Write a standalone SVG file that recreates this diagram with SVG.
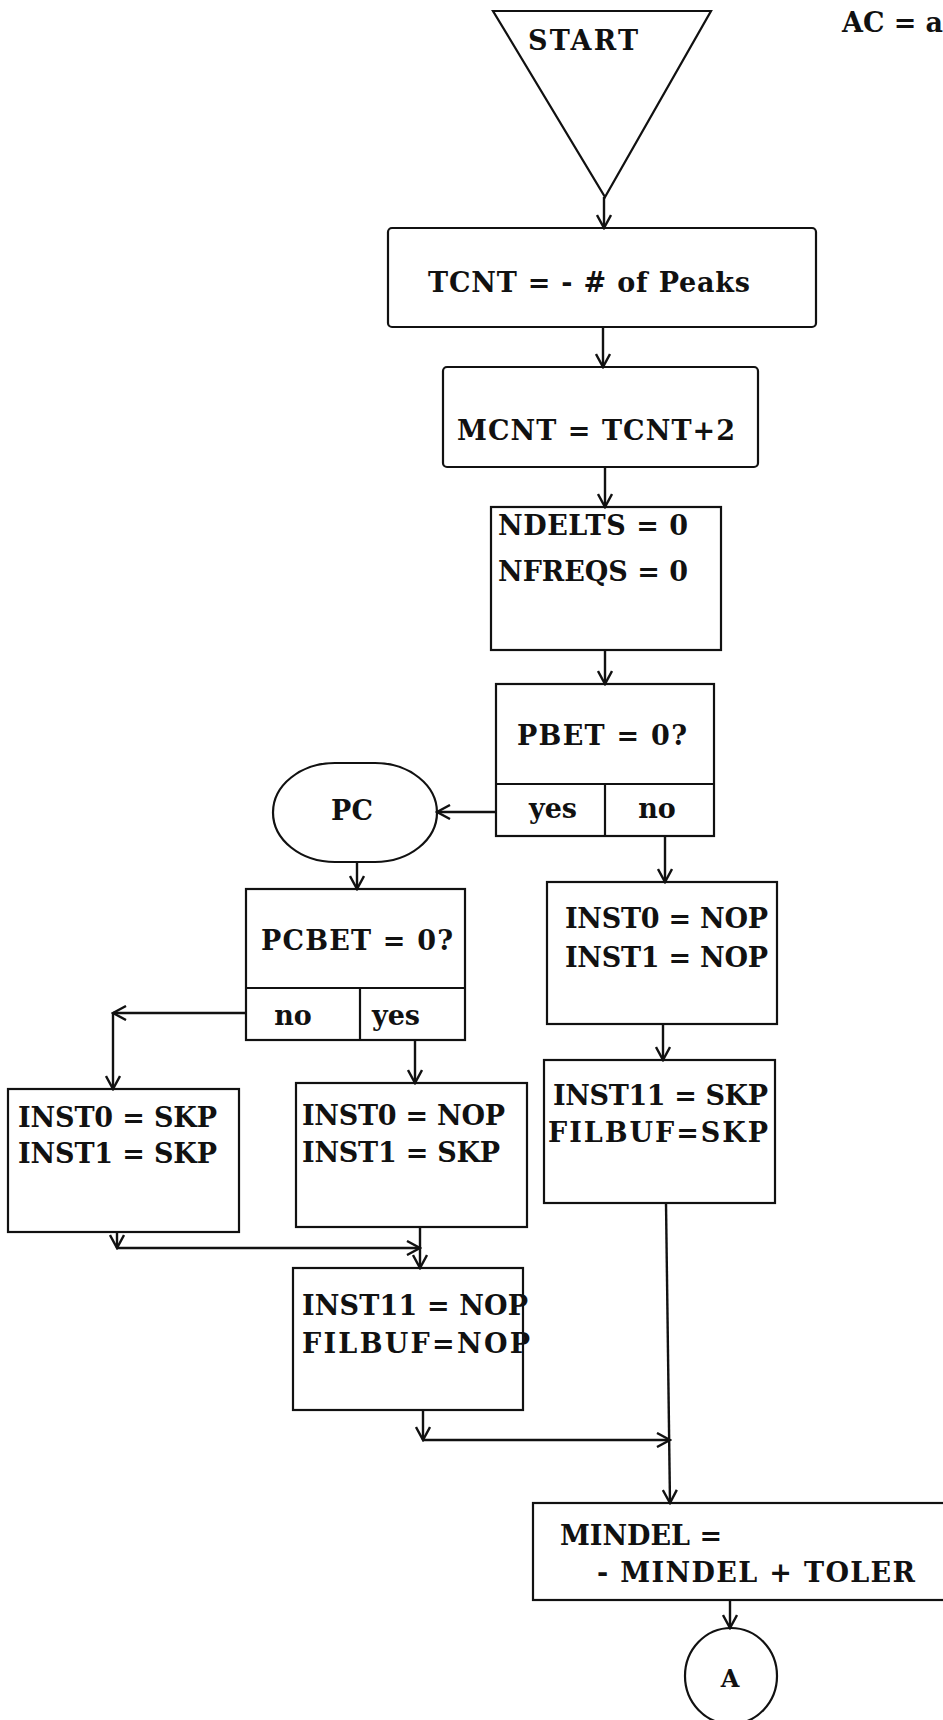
<svg xmlns="http://www.w3.org/2000/svg" width="943" height="1720" viewBox="0 0 943 1720">
<style>
.b{fill:none;stroke:#111;stroke-width:2.2}
.c{fill:none;stroke:#111;stroke-width:2.4}
text{font-family:"DejaVu Serif","Liberation Serif",serif;font-weight:bold;font-size:27px;fill:#111}
.m{text-anchor:middle}
</style>
<defs>
<marker id="ah" markerUnits="userSpaceOnUse" markerWidth="16" markerHeight="16" viewBox="0 0 16 16" refX="14" refY="8" orient="auto">
<path d="M1,1 L14,8 L1,15" fill="none" stroke="#111" stroke-width="2.4"/>
</marker>
</defs>
<rect width="943" height="1720" fill="#fff"/>
<g id="label-ac"><text x="842" y="32" textLength="101">AC = a</text></g>
<g id="start"><path class="b" d="M493,11 L711,11 L605,197 Z"/><text x="528" y="50" textLength="110">START</text></g>
<g id="tcnt"><rect class="b" x="388" y="228" width="428" height="99" rx="4"/><text x="428" y="292" textLength="322">TCNT = - # of Peaks</text></g>
<g id="mcnt"><rect class="b" x="443" y="367" width="315" height="100" rx="4"/><text x="457" y="440" textLength="278">MCNT = TCNT+2</text></g>
<g id="ndelts"><rect class="b" x="491" y="507" width="230" height="143"/><text x="498" y="535" textLength="190">NDELTS = 0</text><text x="498" y="581" textLength="190">NFREQS = 0</text></g>
<g id="pbet"><rect class="b" x="496" y="684" width="218" height="152"/><path class="b" d="M496,784 L714,784 M605,784 L605,836"/><text x="517" y="745" textLength="170">PBET = 0?</text><text class="m" x="553" y="818">yes</text><text class="m" x="657" y="818">no</text></g>
<g id="pc"><rect class="b" x="273" y="763" width="164" height="99" rx="62" ry="49.5"/><text class="m" x="352" y="820">PC</text></g>
<g id="pcbet"><rect class="b" x="246" y="889" width="219" height="151"/><path class="b" d="M246,988 L465,988 M360,988 L360,1040"/><text x="261" y="950" textLength="192">PCBET = 0?</text><text class="m" x="293" y="1025">no</text><text class="m" x="396" y="1025">yes</text></g>
<g id="inst-nop-nop"><rect class="b" x="547" y="882" width="230" height="142"/><text x="565" y="928" textLength="203">INST0 = NOP</text><text x="565" y="967" textLength="203">INST1 = NOP</text></g>
<g id="inst11-skp"><rect class="b" x="544" y="1060" width="231" height="143"/><text x="553" y="1105" textLength="215">INST11 = SKP</text><text x="548" y="1142" textLength="220">FILBUF=SKP</text></g>
<g id="inst-skp-skp"><rect class="b" x="8" y="1089" width="231" height="143"/><text x="18" y="1127" textLength="199">INST0 = SKP</text><text x="18" y="1163" textLength="199">INST1 = SKP</text></g>
<g id="inst-nop-skp"><rect class="b" x="296" y="1083" width="231" height="144"/><text x="302" y="1125" textLength="203">INST0 = NOP</text><text x="302" y="1162" textLength="198">INST1 = SKP</text></g>
<g id="inst11-nop"><rect class="b" x="293" y="1268" width="230" height="142"/><text x="302" y="1315" textLength="226">INST11 = NOP</text><text x="302" y="1353" textLength="228">FILBUF=NOP</text></g>
<g id="mindel"><rect class="b" x="533" y="1503" width="430" height="97"/><text x="560" y="1545" textLength="162">MINDEL =</text><text x="597" y="1582" textLength="318">- MINDEL + TOLER</text></g>
<g id="connector-a"><ellipse class="b" cx="731" cy="1676" rx="46" ry="48"/><text class="m" x="730" y="1687" style="font-size:24px">A</text></g>
<g id="connectors">
<line class="c" x1="604" y1="197" x2="604" y2="228" marker-end="url(#ah)"/>
<line class="c" x1="603" y1="327" x2="603" y2="367" marker-end="url(#ah)"/>
<line class="c" x1="605" y1="467" x2="605" y2="507" marker-end="url(#ah)"/>
<line class="c" x1="605" y1="650" x2="605" y2="684" marker-end="url(#ah)"/>
<line class="c" x1="496" y1="812" x2="437" y2="812" marker-end="url(#ah)"/>
<line class="c" x1="665" y1="836" x2="665" y2="882" marker-end="url(#ah)"/>
<line class="c" x1="663" y1="1024" x2="663" y2="1060" marker-end="url(#ah)"/>
<line class="c" x1="357" y1="862" x2="357" y2="889" marker-end="url(#ah)"/>
<line class="c" x1="246" y1="1013" x2="113" y2="1013" marker-end="url(#ah)"/>
<line class="c" x1="113" y1="1013" x2="113" y2="1089" marker-end="url(#ah)"/>
<line class="c" x1="415" y1="1040" x2="415" y2="1083" marker-end="url(#ah)"/>
<line class="c" x1="117" y1="1232" x2="117" y2="1248" marker-end="url(#ah)"/>
<line class="c" x1="117" y1="1248" x2="420" y2="1248" marker-end="url(#ah)"/>
<line class="c" x1="420" y1="1227" x2="420" y2="1268" marker-end="url(#ah)"/>
<line class="c" x1="423" y1="1410" x2="423" y2="1440" marker-end="url(#ah)"/>
<line class="c" x1="423" y1="1440" x2="670" y2="1440" marker-end="url(#ah)"/>
<line class="c" x1="666" y1="1203" x2="670" y2="1503" marker-end="url(#ah)"/>
<line class="c" x1="730" y1="1600" x2="730" y2="1628" marker-end="url(#ah)"/>
</g>
</svg>
